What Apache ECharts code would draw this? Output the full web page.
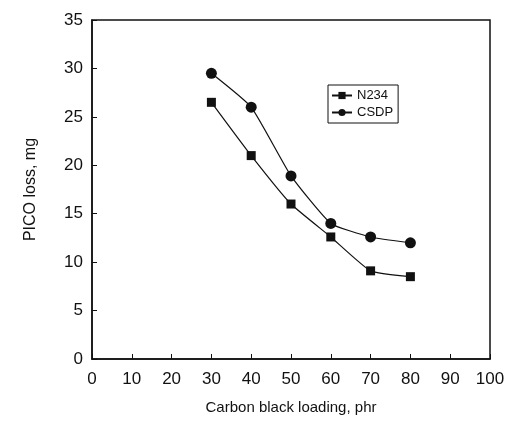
<!DOCTYPE html>
<html><head><meta charset="utf-8">
<script src="https://cdn.jsdelivr.net/npm/echarts@6/dist/echarts.min.js"></script>
<style>html,body{margin:0;padding:0;background:#fff}#c{width:531px;height:437px}</style>
</head><body><div id="c"></div>
<script>
const loading = [30, 40, 50, 60, 70, 80];
const n234 = [26.5, 21, 16, 12.6, 9.1, 8.5];
const csdp = [29.5, 26, 18.9, 14, 12.6, 12];
const xTicks = [0,10,20,30,40,50,60,70,80,90,100];
const yTicks = [0,5,10,15,20,25,30,35];

const chart = echarts.init(document.getElementById('c'), null, {renderer:'canvas'});
const font = 'Liberation Sans, Arial, sans-serif';
chart.setOption({
  animation: false,
  backgroundColor: '#fff',
  grid: {left: 92, right: 41, top: 20, bottom: 78, show: true, borderColor: '#111', borderWidth: 1.5, backgroundColor: 'transparent'},
  legend: {
    left: 328, top: 85, orient: 'vertical', itemGap: 4, itemWidth: 20, itemHeight: 9,
    padding: [4, 5, 4, 3],
    borderColor: '#111', borderWidth: 1,
    textStyle: {fontFamily: font, fontSize: 13, color: '#111'},
    data: ['N234', 'CSDP']
  },
  xAxis: {
    type: 'value', min: 0, max: 100, interval: 10,
    name: 'Carbon black loading, phr', nameLocation: 'middle', nameGap: 41,
    nameTextStyle: {fontFamily: font, fontSize: 15, color: '#111'},
    axisLine: {lineStyle: {color: '#111', width: 1.5}},
    axisTick: {inside: true, length: 5, lineStyle: {color: '#111'}},
    axisLabel: {fontFamily: font, fontSize: 17, color: '#111', margin: 12,
      formatter: v => xTicks.includes(v) ? String(v) : ''},
    splitLine: {show: false}
  },
  yAxis: {
    type: 'value', min: 0, max: 35, interval: 5,
    name: 'PICO loss, mg', nameLocation: 'middle', nameGap: 53,
    nameTextStyle: {fontFamily: font, fontSize: 16, color: '#111'},
    axisLine: {show: true, lineStyle: {color: '#111', width: 1.5}},
    axisTick: {show: true, inside: true, length: 5, lineStyle: {color: '#111'}},
    axisLabel: {fontFamily: font, fontSize: 17, color: '#111', margin: 9,
      formatter: v => yTicks.includes(v) ? String(v) : ''},
    splitLine: {show: false}
  },
  series: [
    {name: 'N234', type: 'line', smooth: 0.15, data: loading.map((x,i)=>[x, n234[i]]),
     symbol: 'rect', symbolSize: 9, itemStyle: {color: '#111'}, lineStyle: {color: '#111', width: 1.2}},
    {name: 'CSDP', type: 'line', smooth: 0.15, data: loading.map((x,i)=>[x, csdp[i]]),
     symbol: 'circle', symbolSize: 11, itemStyle: {color: '#111'}, lineStyle: {color: '#111', width: 1.2}}
  ]
});
</script></body></html>
